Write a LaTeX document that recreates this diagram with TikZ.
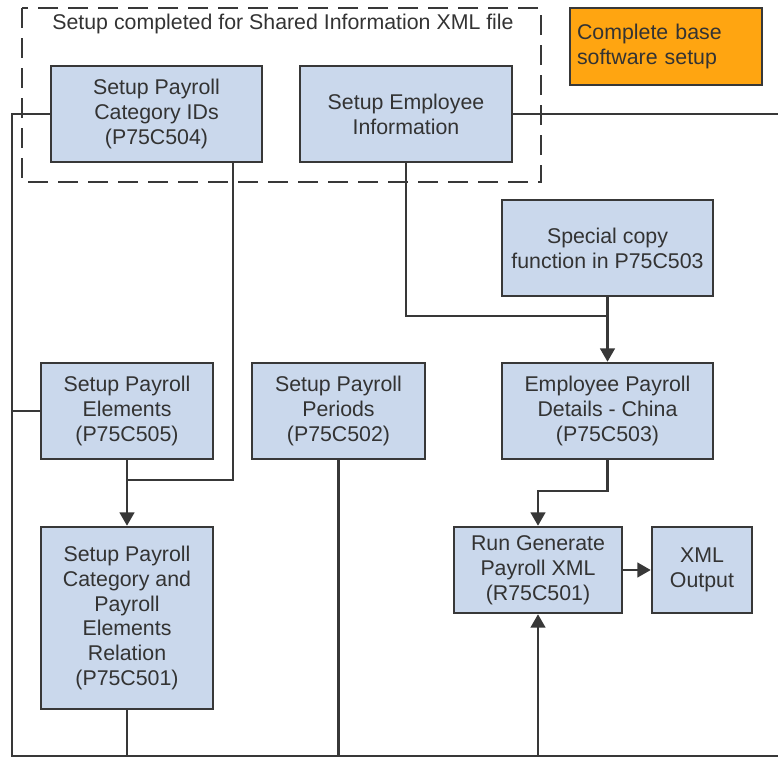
\documentclass[tikz,border=0pt]{standalone}
\usepackage{fontspec}
\setmainfont{Liberation Sans}
\usetikzlibrary{arrows.meta}
\definecolor{boxblue}{HTML}{CAD8EC}
\definecolor{boxline}{HTML}{383838}
\definecolor{txt}{HTML}{333333}
\definecolor{orangebox}{HTML}{FFA511}
\tikzset{
  stepbox/.style={draw=boxline, fill=boxblue, line width=1.9pt, align=center,
    text=txt, font=\fontsize{16}{18.6}\selectfont, inner sep=0pt},
  link/.style={draw=boxline, line width=1.7pt},
  arr/.style={link, -{Triangle[length=10pt,width=11pt]}},
}
\begin{document}
\begin{tikzpicture}[x=0.75pt, y=-0.75pt]
\useasboundingbox (0,0) rectangle (778,757);

% group frame for the shared information setup
\draw[boxline, line width=1.8pt, dash pattern=on 15pt off 7.5pt] (22,8) rectangle (541,182);
\node[text=txt, font=\fontsize{16}{18.6}\selectfont, anchor=center] (grouptitle) at (283,24)
  {Setup completed for Shared Information XML file};

% process steps
\node[stepbox, minimum width=211*0.75pt, minimum height=96*0.75pt] (cat) at (156.5,114)
  {Setup Payroll\\Category IDs\\(P75C504)};
\node[stepbox, minimum width=212*0.75pt, minimum height=96*0.75pt] (emp) at (406,114)
  {Setup Employee\\Information};
\node[draw=boxline, fill=orangebox, line width=1.9pt, text=txt, align=left,
  font=\fontsize{16}{18.6}\selectfont, minimum width=192*0.75pt, minimum height=77*0.75pt,
  inner sep=0pt, text width=178*0.75pt] (base) at (666,46.5)
  {Complete base\\software setup};
\node[stepbox, minimum width=211*0.75pt, minimum height=96*0.75pt] (copy) at (607.5,248)
  {Special copy\\function in P75C503};
\node[stepbox, minimum width=211*0.75pt, minimum height=96*0.75pt] (china) at (607.5,411)
  {Employee Payroll\\Details - China\\(P75C503)};
\node[stepbox, minimum width=172*0.75pt, minimum height=96*0.75pt] (elem) at (127,411)
  {Setup Payroll\\Elements\\(P75C505)};
\node[stepbox, minimum width=173*0.75pt, minimum height=96*0.75pt] (period) at (338.5,411)
  {Setup Payroll\\Periods\\(P75C502)};
\node[stepbox, minimum width=172*0.75pt, minimum height=182*0.75pt] (rel) at (127,618)
  {Setup Payroll\\Category and\\Payroll\\Elements\\Relation\\(P75C501)};
\node[stepbox, minimum width=168*0.75pt, minimum height=86*0.75pt] (run) at (538,570)
  {Run Generate\\Payroll XML\\(R75C501)};
\node[stepbox, minimum width=100*0.75pt, minimum height=86*0.75pt] (xml) at (702,570)
  {XML\\Output};

% bus coordinates
\coordinate (busTop) at (12,114);
\coordinate (busBot) at (12,756);
\coordinate (busEnd) at (778,756);
\coordinate (empEnd) at (778,114);
\coordinate (catDrop) at (233,162);
\coordinate (elemJoin) at (127,480);
\coordinate (copyJoin) at (607.5,316);
\coordinate (chinaBend) at (607.5,491);

% connectors
\draw[link] (cat.west) -- (busTop) -- (busBot) -- (busEnd);
\draw[link] (elem.west) -- (elem.west -| busTop);
\draw[link] (emp.east) -- (empEnd);
\draw[link] (catDrop) |- (elemJoin);
\draw[arr] (elem.south) -- (rel.north);
\draw[link] (emp.south) |- (copyJoin);
\draw[arr] (copy.south) -- (china.north);
\draw[arr] (china.south) -- (chinaBend) -| (run.north);
\draw[arr] (run.east) -- (xml.west);
\draw[link] (rel.south) -- (rel.south |- busBot);
\draw[link] (period.south) -- (period.south |- busBot);
\draw[arr] (run.south |- busBot) -- (run.south);
\end{tikzpicture}
\end{document}
